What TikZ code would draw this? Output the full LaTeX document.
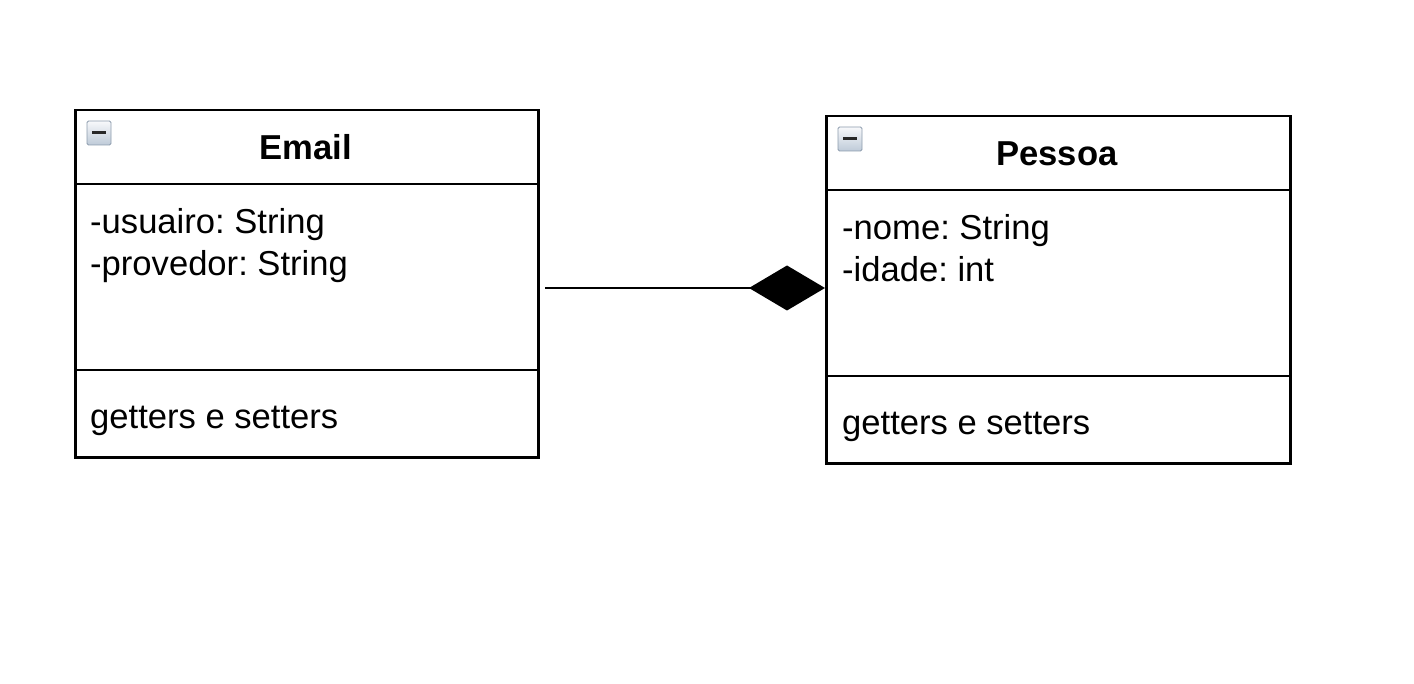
\documentclass[tikz,border=0pt]{standalone}
\usepackage{fontspec}
\setmainfont{Liberation Sans}
\usetikzlibrary{arrows.meta}
\frenchspacing
\definecolor{iconedge}{RGB}{140,155,172}
\definecolor{icontop}{RGB}{248,249,251}
\definecolor{iconbot}{RGB}{190,202,216}
\definecolor{icondash}{RGB}{40,40,40}
\tikzset{
  classbox/.style={draw=black, line width=2.5pt, rectangle, minimum width=#1, inner sep=0pt, anchor=north west},
  divider/.style={draw=black, line width=2.5pt},
  txt/.style={anchor=base west, inner sep=0pt, font=\fontsize{34.6}{42}\selectfont},
  title/.style={anchor=base, inner sep=0pt, font=\fontsize{34.6}{42}\selectfont\bfseries},
  iconbox/.style={draw=iconedge, line width=0.8pt, top color=icontop, bottom color=iconbot, rounded corners=1.5pt},
  composition/.style={line width=2.5pt, -{Diamond[length=76pt,width=45pt,fill=black]}}
}
\begin{document}
\begin{tikzpicture}[x=1pt,y=-1pt]
\useasboundingbox (0,0) rectangle (1414,684);
% Email class
\node[classbox=463pt, minimum height=347pt] (email) at (74,109) {};
\draw[divider] (74,184) -- (537,184);
\draw[divider] (74,370) -- (537,370);
\node[title] (emailtitle) at (305.5,160) {Email};
\node[txt] (emailattr1) at (90,234) {-usuairo: String};
\node[txt] (emailattr2) at (90,276) {-provedor: String};
\node[txt] (emailops) at (90,429) {getters e setters};
\draw[iconbox] (87,121) rectangle (111,145);
\draw[icondash, line width=3pt] (92,133) -- (106,133);
% Pessoa class
\node[classbox=464pt, minimum height=347pt] (pessoa) at (825,115) {};
\draw[divider] (825,190) -- (1289,190);
\draw[divider] (825,376) -- (1289,376);
\node[title] (pessoatitle) at (1057,166) {Pessoa};
\node[txt] (pessoaattr1) at (842,240) {-nome: String};
\node[txt] (pessoaattr2) at (842,282) {-idade: int};
\node[txt] (pessoaops) at (842,435) {getters e setters};
\draw[iconbox] (838,127) rectangle (862,151);
\draw[icondash, line width=3pt] (843,139) -- (857,139);
% composition connector
\coordinate (src) at (545,288);
\coordinate (dst) at (pessoa.west |- src);
\draw[composition] (src) -- (dst);
\end{tikzpicture}
\end{document}
